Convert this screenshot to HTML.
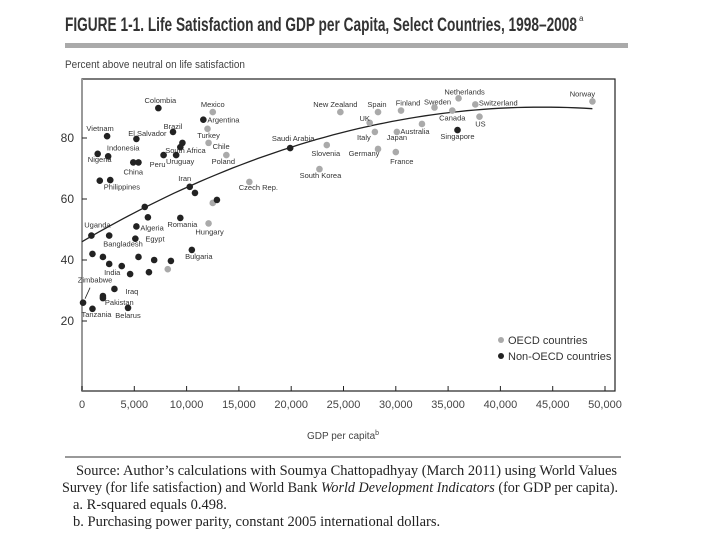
<!DOCTYPE html>
<html><head><meta charset="utf-8"><style>
html,body{margin:0;padding:0;background:#fff;}
svg{display:block;}
</style></head><body>
<svg id="c" width="720" height="540" xmlns="http://www.w3.org/2000/svg">
<text x="65" y="31" font-family="Liberation Sans Narrow, Liberation Sans, sans-serif" font-size="19" font-weight="bold" fill="#333" textLength="512" lengthAdjust="spacingAndGlyphs">FIGURE 1-1. Life Satisfaction and GDP per Capita, Select Countries, 1998–2008</text>
<text x="579" y="21" font-family="Liberation Sans, sans-serif" font-size="8" fill="#333">a</text>
<rect x="65" y="43" width="563" height="5" fill="#aaa"/>
<text x="65" y="68" font-family="Liberation Sans, sans-serif" font-size="11" fill="#444" textLength="180" lengthAdjust="spacingAndGlyphs">Percent above neutral on life satisfaction</text>
<g id="plot"></g>
<line x1="65" y1="457" x2="621" y2="457" stroke="#333" stroke-width="1"/>
<g font-family="Liberation Serif, serif" font-size="14.5" fill="#222">
<text x="76" y="475" textLength="541" lengthAdjust="spacingAndGlyphs">Source: Author’s calculations with Soumya Chattopadhyay (March 2011) using World Values</text>
<text x="62" y="492" textLength="556" lengthAdjust="spacingAndGlyphs">Survey (for life satisfaction) and World Bank <tspan font-style="italic">World Development Indicators</tspan> (for GDP per capita).</text>
<text x="73" y="509">a. R-squared equals 0.498.</text>
<text x="73" y="526">b. Purchasing power parity, constant 2005 international dollars.</text>
</g>
</svg>
<script>
const names = ["Colombia","Mexico","Argentina","Brazil","Turkey","Vietnam","El Salvador","South Africa","","Chile","Indonesia","Nigeria","Peru","Uruguay","Poland","China","","Philippines","","Iran","","Czech Rep.","","","","","Romania","Hungary","Algeria","Uganda","Bangladesh","Egypt","Bulgaria","","","","","","India","","","","","Iraq","Pakistan","","Zimbabwe","Tanzania","Belarus","New Zealand","Spain","Finland","Sweden","Netherlands","Switzerland","Norway","Canada","US","UK","Australia","Italy","Japan","Singapore","Saudi Arabia","Slovenia","Germany","France","South Korea"];
const gdp = [7.3,12.5,11.6,8.7,12.0,2.4,5.2,9.6,9.4,12.1,2.5,1.5,7.8,9.0,13.8,4.9,5.4,1.7,2.7,10.3,10.8,16.0,12.5,12.9,6.0,6.3,9.4,12.1,5.2,0.9,2.6,5.1,10.5,1.0,2.0,5.4,6.9,8.5,2.6,3.8,8.2,4.6,6.4,3.1,2.0,2.0,0.1,1.0,4.4,24.7,28.3,30.5,33.7,36.0,37.6,48.8,35.4,38.0,27.5,32.5,28.0,30.1,35.9,19.9,23.4,28.3,30.0,22.7];
const sat = [89.8,88.5,86,82,83,80.6,79.7,78.4,77,78.4,74,74.8,74.4,74.4,74.4,72,72,66,66.2,64,62,65.6,58.7,59.7,57.4,54,53.8,52,51,48,48,47,43.3,42,41,41,40,39.7,38.7,38,37,35.4,36,30.5,28.2,27.5,26,24,24.3,88.5,88.5,89,90,93,91,92,89,87,85,84.6,82,82,82.6,76.7,77.7,76.4,75.4,69.8];
const oecd = [0,1,0,0,1,0,0,0,0,1,0,0,0,0,1,0,0,0,0,0,0,1,1,0,0,0,0,1,0,0,0,0,0,0,0,0,0,0,0,0,1,0,0,0,0,0,0,0,0,1,1,1,1,1,1,1,1,1,1,1,1,1,0,0,1,1,1,1];
const labelDx = [2,0,4,0,1,-7,11,3,0,4,15,2,-6,4,-3,0,0,4,0,-5,0,9,0,0,0,0,2,1,4,6,-6,10,7,0,0,0,0,0,3,0,0,0,0,11,2,0,12,4,0,-5,-1,7,3,6,23,-10,0,1,-5,-7,-11,0,0,3,-1,-14,6,1];
const labelDy = [-8,-8,0,-6,6,-8,-6,7,0,3,-9,5,9,6,6,9,0,6,0,-9,0,5,0,0,0,0,6,8,1,-11,8,0,6,0,0,0,0,0,8,0,0,0,0,2,6,0,-23,5,7,-8,-8,-8,-6,-7,-2,-8,7,7,-5,7,5,5,6,-10,8,4,9,6];
const labelAnchor = ["middle","middle","start","middle","middle","middle","middle","middle","middle","start","middle","middle","middle","middle","middle","middle","middle","start","middle","middle","middle","middle","middle","middle","middle","middle","middle","middle","start","middle","start","start","middle","middle","middle","middle","middle","middle","middle","middle","middle","middle","middle","start","start","middle","middle","middle","middle","middle","middle","middle","middle","middle","middle","middle","middle","middle","middle","middle","middle","middle","middle","middle","middle","middle","middle","middle"];
const xTicks = [0,5000,10000,15000,20000,25000,30000,35000,40000,45000,50000];
const xTickLabels = ["0","5,000","10,000","15,000","20,000","25,000","30,000","35,000","40,000","45,000","50,000"];
const yTicks = [20,40,60,80];
const trendCoef = [46,2.006,-0.0228];
const trendRange = [0,48.8];

const NS="http://www.w3.org/2000/svg";
const L=82,R=615,T=79,B=391;
const X0=82,X1=605;
function xs(k){return X0+(k/50)*(X1-X0);}
function ys(v){return 382-v*3.05;}
const plot=document.getElementById('plot');
function mk(tag,attrs,parent){const e=document.createElementNS(NS,tag);for(const k in attrs)e.setAttribute(k,attrs[k]);(parent||plot).appendChild(e);return e;}
const frame=mk('rect',{x:L,y:T,width:R-L,height:B-T,fill:'none',stroke:'#222','stroke-width':1.2});


const yax=mk('line',{x1:L,y1:T,x2:L,y2:B,stroke:'#999','stroke-width':2});


xTicks.forEach((t,i)=>{
  const x=xs(t/1000);
  const tk=mk('line',{x1:x,y1:B,x2:x,y2:B-5,stroke:'#222'});
  
  
  const tx=mk('text',{x:x,y:B+17,'text-anchor':'middle','font-family':'Liberation Sans Narrow, Liberation Sans, sans-serif','font-size':'11',fill:'#444'});
  tx.textContent=xTickLabels[i];
  
  
});
yTicks.forEach(t=>{
  const y=ys(t);
  const tk=mk('line',{x1:L,y1:y,x2:L+5,y2:y,stroke:'#222'});
  
  
  const tx=mk('text',{x:L-8,y:y+4,'text-anchor':'end','font-family':'Liberation Sans Narrow, Liberation Sans, sans-serif','font-size':'12',fill:'#333'});
  tx.textContent=String(t);
  
  
});
const xt=mk('text',{x:343,y:439,'text-anchor':'middle','font-family':'Liberation Sans, sans-serif','font-size':'10',fill:'#444'});
xt.textContent='GDP per capita';


const xs2=mk('tspan',{'font-size':'7',dy:'-4'},xt);xs2.textContent='b';
// trend
let d='';
for(let g=trendRange[0];g<=trendRange[1]+0.001;g+=0.8){
  const v=trendCoef[0]+trendCoef[1]*g+trendCoef[2]*g*g;
  d+=(d?'L':'M')+xs(g).toFixed(1)+','+ys(v).toFixed(1);
}
const tr=mk('path',{d:d,fill:'none',stroke:'#222','stroke-width':1.3});


// points
gdp.forEach((g,i)=>{
  const c=mk('circle',{cx:xs(g),cy:ys(sat[i]),r:3.3,fill:oecd[i]?'#aaa':'#222'});
  
  
  if(names[i]){
    const t=mk('text',{x:xs(g)+labelDx[i],y:ys(sat[i])+labelDy[i]+3,'text-anchor':labelAnchor[i],'font-family':'Liberation Sans, sans-serif','font-size':'7.5',fill:'#333'});
    t.textContent=names[i];
    
    
  }
});
const zl=mk('line',{x1:xs(0.1)+2,y1:ys(26)-4,x2:xs(0.1)+7,y2:ys(26)-15,stroke:'#222','stroke-width':0.8});


// legend
[['OECD countries','#aaa',340],['Non-OECD countries','#222',356]].forEach(a=>{
  const c=mk('circle',{cx:501,cy:a[2],r:3,fill:a[1]});
  
  
  const t=mk('text',{x:508,y:a[2]+4,'font-family':'Liberation Sans Narrow, Liberation Sans, sans-serif','font-size':'11',fill:'#333'});
  t.textContent=a[0];
  
  
});
</script>
</body></html>
